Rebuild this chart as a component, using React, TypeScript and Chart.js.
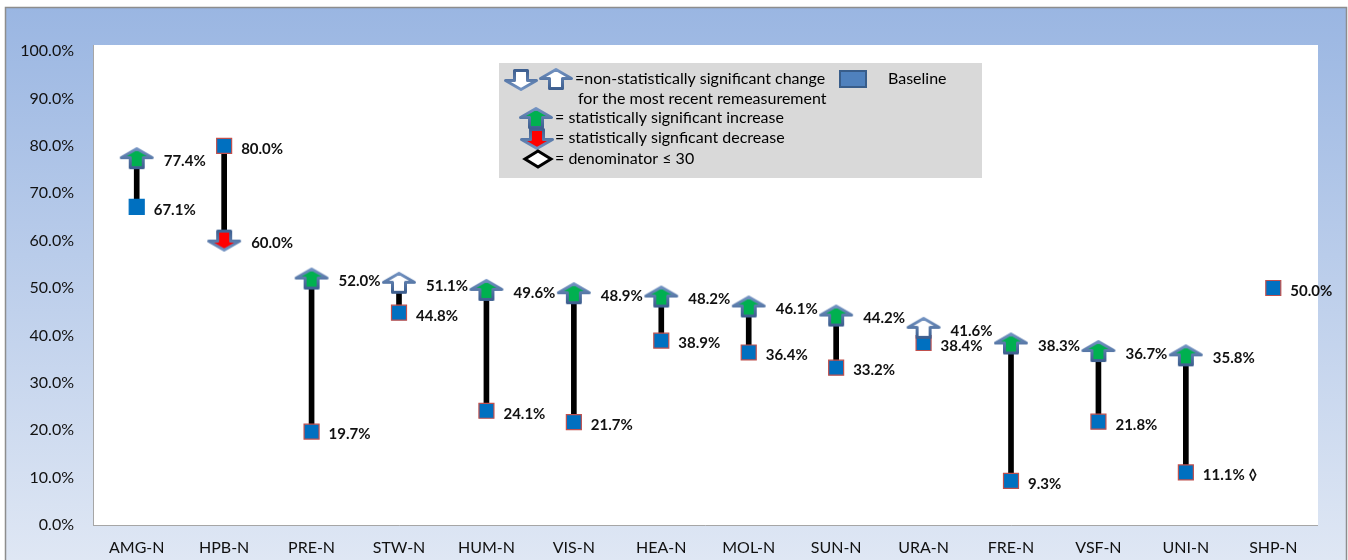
import React, { useEffect, useRef } from "react";
import { Chart, registerables } from "chart.js";

Chart.register(...registerables);

const categories = ["AMG-N", "HPB-N", "PRE-N", "STW-N", "HUM-N", "VIS-N", "HEA-N", "MOL-N", "SUN-N", "URA-N", "FRE-N", "VSF-N", "UNI-N", "SHP-N"];
const baseline = [67.1, 80.0, 19.7, 44.8, 24.1, 21.7, 38.9, 36.4, 33.2, 38.4, 9.3, 21.8, 11.1, 50.0];
const remeasure: (number | null)[] = [77.4, 60.0, 52.0, 51.1, 49.6, 48.9, 48.2, 46.1, 44.2, 41.6, 38.3, 36.7, 35.8, null];
const significance: (string | null)[] = ["inc", "dec", "inc", "ns", "inc", "inc", "inc", "inc", "inc", "ns", "inc", "inc", "inc", null];
const smallDenominator = [false, false, false, false, false, false, false, false, false, false, false, false, true, false];
const baselineBorder = ["#0070c0", "#c0504d", "#c0504d", "#c0504d", "#c0504d", "#c0504d", "#c0504d", "#c0504d", "#c0504d", "#c0504d", "#c0504d", "#c0504d", "#c0504d", "#c0504d"];
const yTicks = [0, 10, 20, 30, 40, 50, 60, 70, 80, 90, 100];

const FONT = "Lato, 'Open Sans', sans-serif";

function makeArrow(dir: "up" | "down", fill: string): HTMLCanvasElement {
  const c = document.createElement("canvas");
  c.width = 38;
  c.height = 26;
  const ctx = c.getContext("2d")!;
  ctx.translate(19, 13);
  if (dir === "down") ctx.scale(1, -1);
  ctx.beginPath();
  ctx.moveTo(0, -9.5);
  ctx.lineTo(15.5, -0.5);
  ctx.lineTo(6.5, -0.5);
  ctx.lineTo(6.5, 9.5);
  ctx.lineTo(-6.5, 9.5);
  ctx.lineTo(-6.5, -0.5);
  ctx.lineTo(-15.5, -0.5);
  ctx.closePath();
  ctx.fillStyle = fill;
  ctx.fill();
  ctx.lineJoin = "round";
  ctx.lineWidth = 3;
  const g = ctx.createLinearGradient(0, -10, 0, 10);
  g.addColorStop(0, "#7393c2");
  g.addColorStop(1, "#3e5f8f");
  ctx.strokeStyle = g;
  ctx.stroke();
  return c;
}

const fmt = (v: number) => v.toFixed(1) + "%";

export default function App() {
  const ref = useRef<HTMLCanvasElement>(null);

  useEffect(() => {
    document.body.style.margin = "0";
    const arrowUpGreen = makeArrow("up", "#00b050");
    const arrowDownRed = makeArrow("down", "#ff0000");
    const arrowUpWhite = makeArrow("up", "#ffffff");
    const arrowDownWhite = makeArrow("down", "#ffffff");

    const arrowStyles = significance.map((s) =>
      s === "inc" ? arrowUpGreen : s === "dec" ? arrowDownRed : arrowUpWhite
    );

    const bgPlugin = {
      id: "bg",
      beforeDraw(chart: any) {
        const { ctx, width, height, chartArea } = chart;
        ctx.save();
        const g = ctx.createLinearGradient(0, 7, 0, height);
        g.addColorStop(0, "#9ab6e2");
        g.addColorStop(1, "#dfe7f4");
        ctx.fillStyle = "#ffffff";
        ctx.fillRect(0, 0, width, height);
        ctx.fillStyle = g;
        ctx.fillRect(5, 7, 1342, height - 7);
        ctx.strokeStyle = "#8d8d8d";
        ctx.lineWidth = 1.5;
        ctx.strokeRect(5.5, 7.5, 1341, height);
        ctx.fillStyle = "#ffffff";
        ctx.fillRect(chartArea.left, chartArea.top, chartArea.right - chartArea.left + 1, chartArea.bottom - chartArea.top);
        ctx.restore();
      },
    };

    const labelPlugin = {
      id: "labels",
      afterDatasetsDraw(chart: any) {
        const { ctx } = chart;
        const xs = chart.scales.x;
        const ys = chart.scales.y;
        ctx.save();
        ctx.font = `bold 15px ${FONT}`;
        ctx.fillStyle = "#111";
        ctx.textAlign = "left";
        ctx.textBaseline = "middle";
        categories.forEach((_, i) => {
          const x = xs.getPixelForValue(i);
          const b = baseline[i];
          ctx.fillText(fmt(b) + (smallDenominator[i] ? " \u25CA" : ""), x + 17, ys.getPixelForValue(b) + 3);
          const r = remeasure[i];
          if (r != null) ctx.fillText(fmt(r), x + 27, ys.getPixelForValue(r) + 3);
        });

        // legend box
        ctx.fillStyle = "#d9d9d9";
        ctx.fillRect(499, 63, 483, 115);
        const draw = (img: HTMLCanvasElement, cx: number, cy: number) =>
          ctx.drawImage(img, cx - img.width / 2, cy - img.height / 2);
        draw(arrowDownWhite, 521, 80);
        draw(arrowUpWhite, 556, 79);
        draw(arrowUpGreen, 536, 118);
        draw(arrowDownRed, 537, 139);
        ctx.beginPath();
        ctx.moveTo(538, 151);
        ctx.lineTo(551, 159);
        ctx.lineTo(538, 167);
        ctx.lineTo(525, 159);
        ctx.closePath();
        ctx.fillStyle = "#fff";
        ctx.fill();
        ctx.lineWidth = 3;
        ctx.strokeStyle = "#000";
        ctx.stroke();
        ctx.fillStyle = "#4f81bd";
        ctx.fillRect(840, 71, 26, 16);
        ctx.lineWidth = 2;
        ctx.strokeStyle = "#385d8a";
        ctx.strokeRect(840, 71, 26, 16);
        ctx.font = `16px ${FONT}`;
        ctx.fillStyle = "#000";
        ctx.textBaseline = "middle";
        ctx.fillText("=non-statistically significant change", 575, 79);
        ctx.fillText("Baseline", 888, 79);
        ctx.fillText("for the most recent remeasurement", 578, 99);
        ctx.fillText("= statistically significant increase", 555, 118);
        ctx.fillText("= statistically signficant decrease", 555, 138);
        ctx.fillText("= denominator \u2264 30", 555, 159);
        ctx.restore();
      },
    };

    const chart = new Chart(ref.current!, {
      type: "bar",
      data: {
        labels: categories,
        datasets: [
          {
            type: "line",
            data: remeasure as any,
            showLine: false,
            pointStyle: arrowStyles as any,
            pointRadius: 12,
            order: 0,
          } as any,
          {
            type: "line",
            data: baseline,
            showLine: false,
            pointStyle: "rect",
            pointRadius: 10.6,
            pointBackgroundColor: "#0070c0",
            pointBorderColor: baselineBorder,
            pointBorderWidth: 1.2,
            order: 1,
          } as any,
          {
            type: "bar",
            data: baseline.map((b, i) => (remeasure[i] == null ? null : [b, remeasure[i]])) as any,
            backgroundColor: "#000000",
            barThickness: 5,
            borderWidth: 0,
            order: 2,
          } as any,
        ],
      },
      options: {
        responsive: false,
        animation: false,
        devicePixelRatio: 1,
        layout: { padding: { left: 0, right: 31, top: 45, bottom: 0 } },
        plugins: { legend: { display: false }, tooltip: { enabled: false } },
        scales: {
          x: {
            offset: true,
            grid: { display: false, drawTicks: false, tickLength: 0 },
            border: { display: true, color: "#a6a6a6", width: 1 },
            ticks: { font: { family: FONT, size: 16 }, color: "#111", padding: 13, maxRotation: 0, autoSkip: false },
            afterFit: (s: any) => { s.height = 35; },
          },
          y: {
            min: 0,
            max: 101.27,
            grid: { display: false, drawTicks: false, tickLength: 0 },
            border: { display: true, color: "#a6a6a6", width: 1 },
            ticks: {
              font: { family: FONT, size: 16 },
              color: "#111",
              padding: 19,
              callback: (v: any) => fmt(Number(v)),
            },
            afterBuildTicks: (s: any) => { s.ticks = yTicks.map((v) => ({ value: v })); },
            afterFit: (s: any) => { s.width = 93; },
          },
        },
      },
      plugins: [bgPlugin, labelPlugin],
    } as any);
    return () => chart.destroy();
  }, []);

  return (
    <div style={{ width: 1348, height: 560 }}>
      <canvas ref={ref} width={1348} height={560} />
    </div>
  );
}
